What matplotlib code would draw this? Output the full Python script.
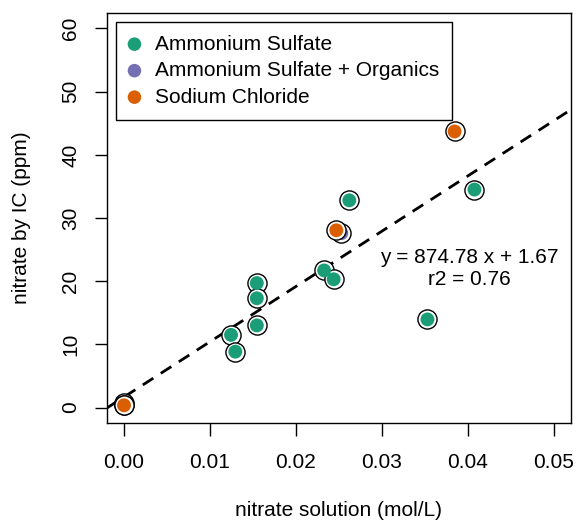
import numpy as np
import matplotlib
matplotlib.use("Agg")
import matplotlib.pyplot as plt

# nitrate solution (mol/L) vs nitrate by IC (ppm), grouped by solution type
groups = ["Ammonium Sulfate", "Ammonium Sulfate + Organics", "Sodium Chloride"]
colors = ["#1B9E77", "#7570B3", "#D95F02"]

as_x = [0.0, 0.0, 0.01245, 0.01295, 0.01545, 0.01545, 0.01545,
        0.02328, 0.02439, 0.02621, 0.0353, 0.04077]
as_y = [0.7, 0.4, 11.5, 8.85, 19.7, 17.3, 13.0, 21.7, 20.3, 32.8, 13.95, 34.5]

aso_x = [0.02528]
aso_y = [27.6]

nacl_x = [0.0, 0.0247, 0.03846]
nacl_y = [0.36, 28.06, 43.7]

# linear fit shown on the plot
fit_slope = 874.78
fit_intercept = 1.67
fit_r2 = 0.76

plt.rcParams["font.family"] = ["Liberation Sans", "DejaVu Sans"]
plt.rcParams["font.size"] = 15

fig = plt.figure(figsize=(5.78, 5.22), dpi=100)
ax = fig.add_axes([0.1848, 0.1902, 0.9879 - 0.1848, 0.9745 - 0.1902])

series = [(as_x, as_y), (aso_x, aso_y), (nacl_x, nacl_y)]
z = 3
for (xs, ys), col, name in zip(series, colors, groups):
    # black open ring behind each filled point
    ax.scatter(xs, ys, s=190, facecolor="white", edgecolor="black",
               linewidth=1.0, zorder=z)
    ax.scatter(xs, ys, s=100, color=col, edgecolor="none", zorder=z + 1,
               label=name)
    z += 2

# regression line
ax.axline((0, fit_intercept), slope=fit_slope, color="black",
          linestyle=(0, (4.5, 3.2)), linewidth=2.0, zorder=2)

ax.text(0.0402, 22, "y = %.2f x + %.2f\nr2 = %.2f" % (fit_slope, fit_intercept, fit_r2),
        ha="center", va="center", multialignment="center", zorder=10)

ax.set_xlim(-0.002, 0.052)
ax.set_ylim(-2.4, 62.4)
ax.set_xticks(np.arange(0, 0.051, 0.01))
ax.set_xticklabels(["%.2f" % v for v in np.arange(0, 0.051, 0.01)])
ax.set_yticks(np.arange(0, 61, 10))
ax.set_yticklabels([str(v) for v in range(0, 61, 10)], rotation=90, va="center")
ax.tick_params(direction="out", length=9, width=1, pad=13)
ax.tick_params(axis="y", pad=10)
for sp in ax.spines.values():
    sp.set_linewidth(1)
    sp.set_color("black")

ax.set_xlabel("nitrate solution (mol/L)", labelpad=20.5)
ax.set_ylabel("nitrate by IC (ppm)", labelpad=22)

leg = ax.legend(loc="upper left", bbox_to_anchor=(0.0198, 0.9795),
                borderaxespad=0, frameon=True, fancybox=False,
                edgecolor="black", framealpha=1, handletextpad=0.7,
                labelspacing=0.36, borderpad=0.62, handlelength=0.53,
                scatterpoints=1)
leg.get_frame().set_linewidth(1)
for h in leg.legend_handles:
    h.set_sizes([95])

fig.savefig("out.png", dpi=100)
